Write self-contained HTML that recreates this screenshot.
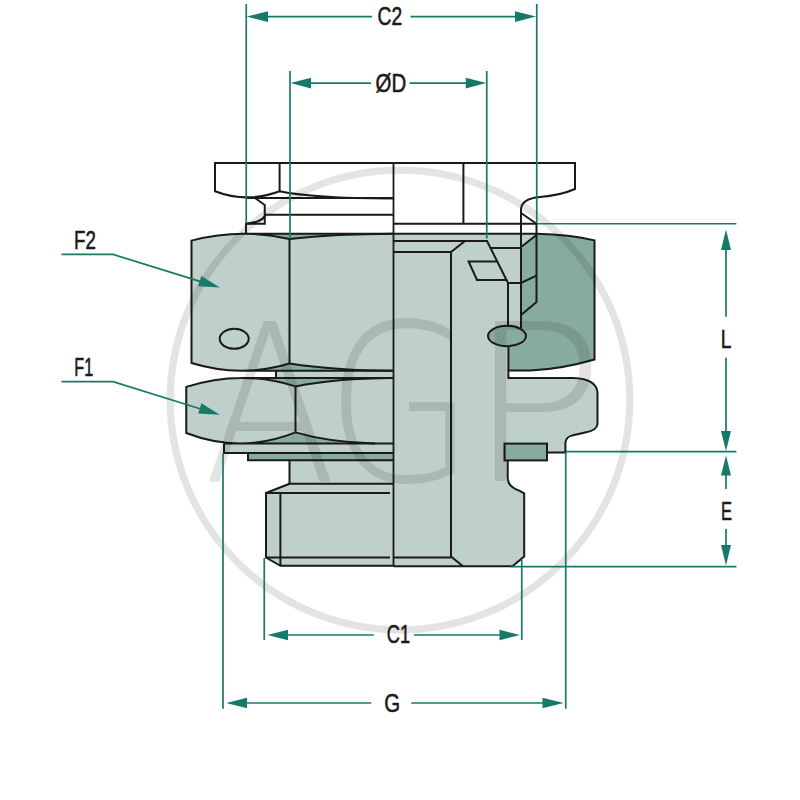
<!DOCTYPE html>
<html><head><meta charset="utf-8"><title>Fitting dimensions</title>
<style>
html,body{margin:0;padding:0;background:#fff;}
svg{display:block;}
.k{stroke:#1a1a18;stroke-width:2;fill:none;stroke-linejoin:miter;stroke-linecap:butt;}
.lg{fill:#bfcfcb;}
.dg{fill:#88aba1;}
.g{stroke:#17796a;stroke-width:1.7;fill:none;}
.ga{fill:#17796a;stroke:none;}
.t{font-family:"Liberation Sans",sans-serif;font-size:25px;fill:#1a1a18;}
.t text{stroke:#1a1a18;stroke-width:0.5;vector-effect:non-scaling-stroke;}
.wm{font-family:"DejaVu Sans","Liberation Sans",sans-serif;font-weight:200;fill:#000;}
</style></head><body>
<svg width="800" height="800" viewBox="0 0 800 800">
<rect width="800" height="800" fill="#fff"/>

<!-- ===== fills ===== -->
<g id="fills" stroke="none">
  <!-- F2 nut left half -->
  <path class="lg" d="M191.5,240.6 Q216,234.2 240.5,233.75 H393.5 V370.7 H240.5 Q216,370.6 191.5,363 Z"/>
  <!-- band under F2 -->
  <rect class="lg" x="276" y="370.7" width="117.5" height="7.3"/>
  <!-- F1 nut -->
  <path class="lg" d="M186.25,386.9 Q213.6,378 240.9,377.9 H393.5 V443.4 H240.9 Q213.6,443.5 186.25,433 Z"/>
  <!-- flange below F1 -->
  <rect class="lg" x="224" y="443.4" width="169.5" height="9.6"/>
  <rect class="dg" x="248" y="453" width="145.5" height="7.2"/>
  <rect class="lg" x="289.5" y="460.2" width="104" height="23.6"/>
  <path class="lg" d="M289.5,483.8 L266,493 V557.5 L280.4,565.8 H393.5 V483.8 Z"/>
  <!-- right body -->
  <path class="lg" d="M393.5,233.75 H536.5 V235 L521,247 V330 L508.4,340 V377.9 H573 Q596.5,378.6 597.5,392.5 V424 Q597,430.5 585,432.5 L572,435.4 Q565.6,437.5 565.4,443 V452.5 H547 V460.4 H507.7 V478.3 Q508,487 519.3,490.6 L524.2,493.4 V556.6 L512.4,566.3 H393.5 Z"/>
  <!-- seal -->
  <path class="dg" d="M521,247 L536.5,235 V233.75 Q570,234.5 594.5,240.4 V359.5 Q560,369.5 530,370.5 H508.4 V340 L521,330 Z"/>
  <!-- chamfer triangles on nuts -->
  <path class="dg" d="M240.5,233.75 H393.5 Q335,233.9 289.5,238.9 Q265,233.3 240.5,233.75 Z"/>
  <path class="dg" d="M240.5,370.7 H393.5 Q335,370.6 289.5,363.5 Q265,370.8 240.5,370.7 Z"/>
  <path class="dg" d="M240.9,377.9 H393.5 Q335,378.2 295.5,386.4 Q268.2,377.8 240.9,377.9 Z"/>
  <path class="dg" d="M240.9,443.4 H375 Q330,442.6 295.5,432.4 Q268.2,443.25 240.9,443.4 Z"/>
</g>

<!-- ===== black linework ===== -->
<g class="k">
  <!-- top part, left -->
  <path d="M393.5,162.9 H215 V191.25 Q247,203.5 279.6,191.25 V162.9"/>
  <path d="M279.6,191.25 Q315,198.6 393.5,198.4"/>
  <path d="M246,198 H393.5"/>
  <path d="M255,198 L264.75,205 V223.75 H246"/>
  <path d="M264.75,216 Q262,222 246,223.75 V233.75"/>
  <path d="M264.75,214.75 H393.5"/>
  <!-- top part, right -->
  <path d="M393.5,162.9 H575 V189 Q560,195.5 540,197 Q522,198.5 521,209 V328"/>
  <path d="M463.4,162.9 V223.75"/>
  <path d="M393.5,223.75 H536.5"/>
  <path d="M521,213 L536.5,223.75 V302 L521,315"/>
  <path d="M393.5,233.75 H536.5"/>
  <!-- F2 nut -->
  <path d="M393.5,233.75 H240.5 M289.5,238.9 Q240.5,227.75 191.5,240.6 V363 Q240.5,378.15 289.5,363.5 M240.5,370.7 H393.5"/>
  <path d="M289.5,238.9 Q335,233.9 393.5,233.75"/>
  <path d="M289.5,363.5 Q335,370.6 393.5,370.7"/>
  <path d="M289.5,238.9 V363.5"/>
  <ellipse cx="234.2" cy="338.8" rx="14.5" ry="10"/>
  <!-- band under F2 -->
  <path d="M276,370.7 V378"/>
  <!-- F1 nut -->
  <path d="M393.5,377.9 H240.9 M295.5,386.4 Q240.9,369.15 186.25,386.9 V433 Q240.9,454.1 295.5,432.4 M224,443.4 H393.5"/>
  <path d="M295.5,386.4 Q335,378.2 393.5,377.9"/>
  <path d="M295.5,432.4 Q330,442.6 375,443.4"/>
  <path d="M295.5,386.4 V432.4"/>
  <!-- flange / washer / body / thread -->
  <path d="M224,443.4 V453 H393.5"/>
  <path d="M248,453 V460.2 H393.5"/>
  <path d="M289.5,460.2 V483.8 H393.5"/>
  <path d="M289.5,483.8 L266,493 V557.5 L280.4,565.8 H393.5"/>
  <path d="M266,493 H390"/>
  <path d="M266,557.5 H390"/>
  <path d="M280.4,493 V565.8"/>
  <!-- right half inner -->
  <path d="M393.5,241 H487 L508,283 H521 L536.5,275.6"/>
  <path d="M465,241 L451,252 H393.5"/>
  <path d="M451,252 V556.6 L463,566.3"/>
  <path d="M393.5,557.5 H451"/>
  <path d="M490.5,248 H521"/>
  <path d="M521,247 L536.5,235"/>
  <path d="M497.2,261.4 H468.6 L477,280 H506.5"/>
  <path d="M508,283 V326 M508.4,346 V370.5"/>
  <!-- seal outline -->
  <path d="M536.5,233.75 Q570,234.5 594.5,240.4 V359.5 Q560,369.5 530,370.5 H508.4 V377.9 H573 Q596.5,378.6 597.5,392.5 V424 Q597,430.5 585,432.5 L572,435.4 Q565.6,437.5 565.4,443 V452.5 H547"/>
  <!-- lower right body -->
  <path d="M507.7,460.4 V478.3 Q508,487 519.3,490.6 L524.2,493.4 V556.6 L512.4,566.3 H393.5"/>
  <!-- centre line -->
  <path d="M393.5,162.9 V566.3" stroke-width="1.8"/>
</g>
<ellipse cx="507" cy="336" rx="19" ry="10.2" class="dg" stroke="#1a1a18" stroke-width="2"/>
<rect x="504.5" y="443.6" width="42.5" height="16.8" class="dg" stroke="#1a1a18" stroke-width="2"/>

<!-- ===== watermark ===== -->
<g opacity="0.105">
  <circle cx="400" cy="400" r="229.8" fill="none" stroke="#000" stroke-width="7.2"/>
  <text class="wm" font-size="220" transform="translate(203.3,480.5) scale(0.888,1)">A</text>
  <text class="wm" font-size="220" transform="translate(325.1,480.5) scale(0.88,1)">G</text>
  <text class="wm" font-size="220" transform="translate(466.9,480.5) scale(1.043,1)">P</text>
</g>

<!-- ===== dimension lines ===== -->
<g class="g">
  <path d="M246.25,4 V223.5"/>
  <path d="M536.75,4 V223"/>
  <path d="M290,71 V238.5"/>
  <path d="M486.75,71 V238.5"/>
  <path d="M267,16.6 H372 M410.5,16.6 H516"/>
  <path d="M310,83.1 H371 M409.5,83.1 H466"/>
  <path d="M537,223.75 H736.4"/>
  <path d="M566,451.6 H736.4"/>
  <path d="M511,566.6 H736.4"/>
  <path d="M726,249 V316.8 M726,357.75 V432"/>
  <path d="M726,475 V489 M726,529 V546"/>
  <path d="M223,453 V708.75"/>
  <path d="M565.75,452 V708.75"/>
  <path d="M264.25,558 V640"/>
  <path d="M521.75,560 V640"/>
  <path d="M287,635 H373.75 M413.75,635 H500"/>
  <path d="M246,703 H371.25 M411.25,703 H543"/>
  <path d="M61.5,254.4 H113 L200,281.4"/>
  <path d="M61.5,381.7 H113 L200,408.7"/>
</g>
<g class="ga">
  <path d="M246.8,16.6 L268,11.3 V21.9 Z"/>
  <path d="M536,16.6 L515,11.3 V21.9 Z"/>
  <path d="M290.5,83.1 L311,77.8 V88.4 Z"/>
  <path d="M486.2,83.1 L465.75,77.8 V88.4 Z"/>
  <path d="M726,229.4 L721,250 H731 Z"/>
  <path d="M726,451 L721,431 H731 Z"/>
  <path d="M726,455.6 L721,475.6 H731 Z"/>
  <path d="M726,565.6 L721,545 H731 Z"/>
  <path d="M267.5,635 L288,629.7 V640.3 Z"/>
  <path d="M520,635 L499.5,629.7 V640.3 Z"/>
  <path d="M226.25,703 L247,697.7 V708.3 Z"/>
  <path d="M563.75,703 L542.5,697.7 V708.3 Z"/>
  <path d="M219.8,287.5 L198.2,286.3 L201.4,276 Z"/>
  <path d="M219.8,414.8 L198.2,413.6 L201.4,403.3 Z"/>
</g>

<!-- ===== labels ===== -->
<g class="t">
  <text transform="translate(377.5,24.9) scale(0.771,1)">C2</text>
  <text transform="translate(375.6,91.75) scale(0.817,1)">ØD</text>
  <text transform="translate(74.1,248.5) scale(0.75,1)">F2</text>
  <text transform="translate(74.3,375.8) scale(0.646,1)">F1</text>
  <text transform="translate(720.8,347.75) scale(0.764,1)">L</text>
  <text transform="translate(721,519.5) scale(0.662,1)">E</text>
  <text transform="translate(386.8,642.9) scale(0.727,1)">C1</text>
  <text transform="translate(384.2,711.6) scale(0.818,1)">G</text>
</g>
</svg>
</body></html>
